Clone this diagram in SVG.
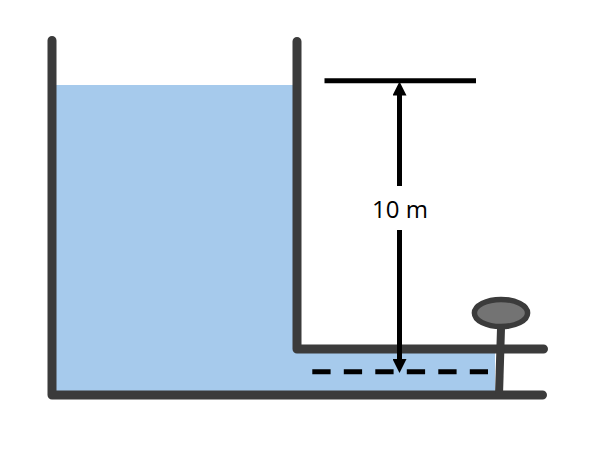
<svg xmlns="http://www.w3.org/2000/svg" width="609" height="452" viewBox="0 0 609 452">
<style>
.wall{fill:none;stroke:#3b3b3b;stroke-width:9;stroke-linecap:round;stroke-linejoin:round}
.dim{fill:none;stroke:#000;stroke-width:5}
.label{font-family:"Open Sans",sans-serif;font-size:24px;fill:#000}
</style>
<defs>
<marker id="head" viewBox="0 0 14 14" refX="0.5" refY="7" markerUnits="userSpaceOnUse" markerWidth="14" markerHeight="14" orient="auto"><path d="M0 0L14 7L0 14Z" fill="#000"/></marker>
</defs>
<rect width="609" height="452" fill="#fff"/>
<g id="water"><path d="M52 85H297V349H495V395H52Z" fill="#a6caec"/></g>
<g id="tank"><path class="wall" d="M52 40.5V395H542.5"/><path class="wall" d="M297 41.5V349H543.5"/></g>
<g id="valve"><path d="M501 328L499 395" fill="none" stroke="#3b3b3b" stroke-width="8"/><ellipse cx="501" cy="313" rx="26.6" ry="13.6" fill="#737373" stroke="#3b3b3b" stroke-width="5.5"/></g>
<g id="levels"><path class="dim" d="M324.5 80.7H476"/><path class="dim" d="M312.3 371.7H488" stroke-dasharray="18.3 13.2"/></g>
<g id="connectors"><path class="dim" d="M399.5 186V95" marker-end="url(#head)"/><path class="dim" d="M399.5 230V359.5" marker-end="url(#head)"/></g>
<g id="dimension-label"><text class="label" x="400" y="218" text-anchor="middle">10 m</text></g>
</svg>
